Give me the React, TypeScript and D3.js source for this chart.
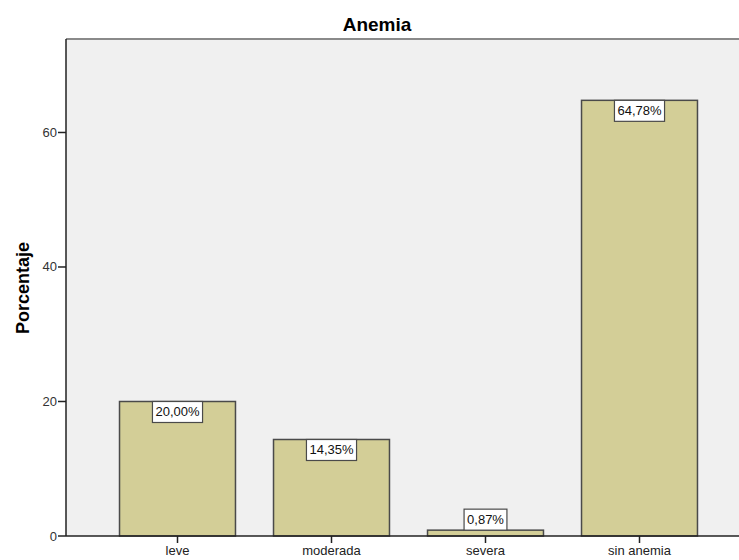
import React from "react";
import * as d3 from "d3";

const categories = ["leve", "moderada", "severa", "sin anemia"];
const values = [20.0, 14.35, 0.87, 64.78];
const valueLabels = ["20,00%", "14,35%", "0,87%", "64,78%"];
const yTicks = [0, 20, 40, 60];

const W = 739;
const H = 560;
const FONT = "'Liberation Sans', Arial, sans-serif";

function measure(text: string, font: string): number {
  if (typeof document === "undefined") return text.length * 7;
  const c = document.createElement("canvas");
  const ctx = c.getContext("2d");
  if (!ctx) return text.length * 7;
  ctx.font = font;
  return ctx.measureText(text).width;
}

export default function App() {
  const plotLeft = 66;
  const plotTop = 39;
  const plotBottom = 536;
  const x = d3
    .scaleBand<string>()
    .domain(categories)
    .range([100.5, 716.5])
    .paddingInner(0.247)
    .paddingOuter(0.1235);
  const y = d3.scaleLinear().domain([0, 73.9]).range([plotBottom, plotTop]);

  return (
    <div style={{ position: "fixed", left: 0, top: 0, width: W, height: H, overflow: "hidden" }}>
      <svg width={W} height={H} style={{ display: "block", background: "#fff" }} fontFamily={FONT}>
        <rect x={plotLeft} y={plotTop} width={W - plotLeft + 5} height={plotBottom - plotTop} fill="#F0F0F0" />
        <line x1={plotLeft} x2={W} y1={plotTop} y2={plotTop} stroke="#8a8a8a" strokeWidth={2} />
        <text x={377} y={31} textAnchor="middle" fontSize={19} fontWeight="bold" fill="#000">
          Anemia
        </text>
        {categories.map((c, i) => {
          const bx = x(c) as number;
          const bw = x.bandwidth();
          const top = y(values[i]);
          const label = valueLabels[i];
          const tw = measure(label, `13px ${FONT}`);
          const boxW = tw + 6;
          const boxH = 21;
          const cx = bx + bw / 2;
          const inside = plotBottom - top > boxH + 2;
          const boxY = inside ? top : top - boxH;
          return (
            <g key={c}>
              <rect
                x={bx}
                y={top}
                width={bw}
                height={plotBottom - top}
                fill="#D3CE97"
                stroke="#4a4a4a"
                strokeWidth={1.5}
              />
              <rect
                x={cx - boxW / 2}
                y={boxY}
                width={boxW}
                height={boxH}
                fill="#fff"
                stroke="#4a4a4a"
                strokeWidth={1.2}
              />
              <text x={cx} y={boxY + 15} textAnchor="middle" fontSize={13} fill="#111">
                {label}
              </text>
              <line x1={cx} x2={cx} y1={plotBottom} y2={plotBottom + 7} stroke="#222" strokeWidth={1.5} />
              <text x={cx} y={555} textAnchor="middle" fontSize={13} fill="#222">
                {c}
              </text>
            </g>
          );
        })}
        <line x1={plotLeft} x2={W} y1={plotBottom} y2={plotBottom} stroke="#222" strokeWidth={1.5} />
        <line x1={plotLeft} x2={plotLeft} y1={plotTop} y2={plotBottom} stroke="#222" strokeWidth={1.5} />
        {yTicks.map((t) => (
          <g key={t}>
            <line x1={plotLeft - 8} x2={plotLeft} y1={y(t)} y2={y(t)} stroke="#222" strokeWidth={1.5} />
            <text x={plotLeft - 9} y={y(t) + 4.5} textAnchor="end" fontSize={13} fill="#333">
              {t}
            </text>
          </g>
        ))}
        <text
          transform={`translate(29, 288) rotate(-90)`}
          textAnchor="middle"
          fontSize={18}
          fontWeight="bold"
          fill="#000"
        >
          Porcentaje
        </text>
      </svg>
    </div>
  );
}
